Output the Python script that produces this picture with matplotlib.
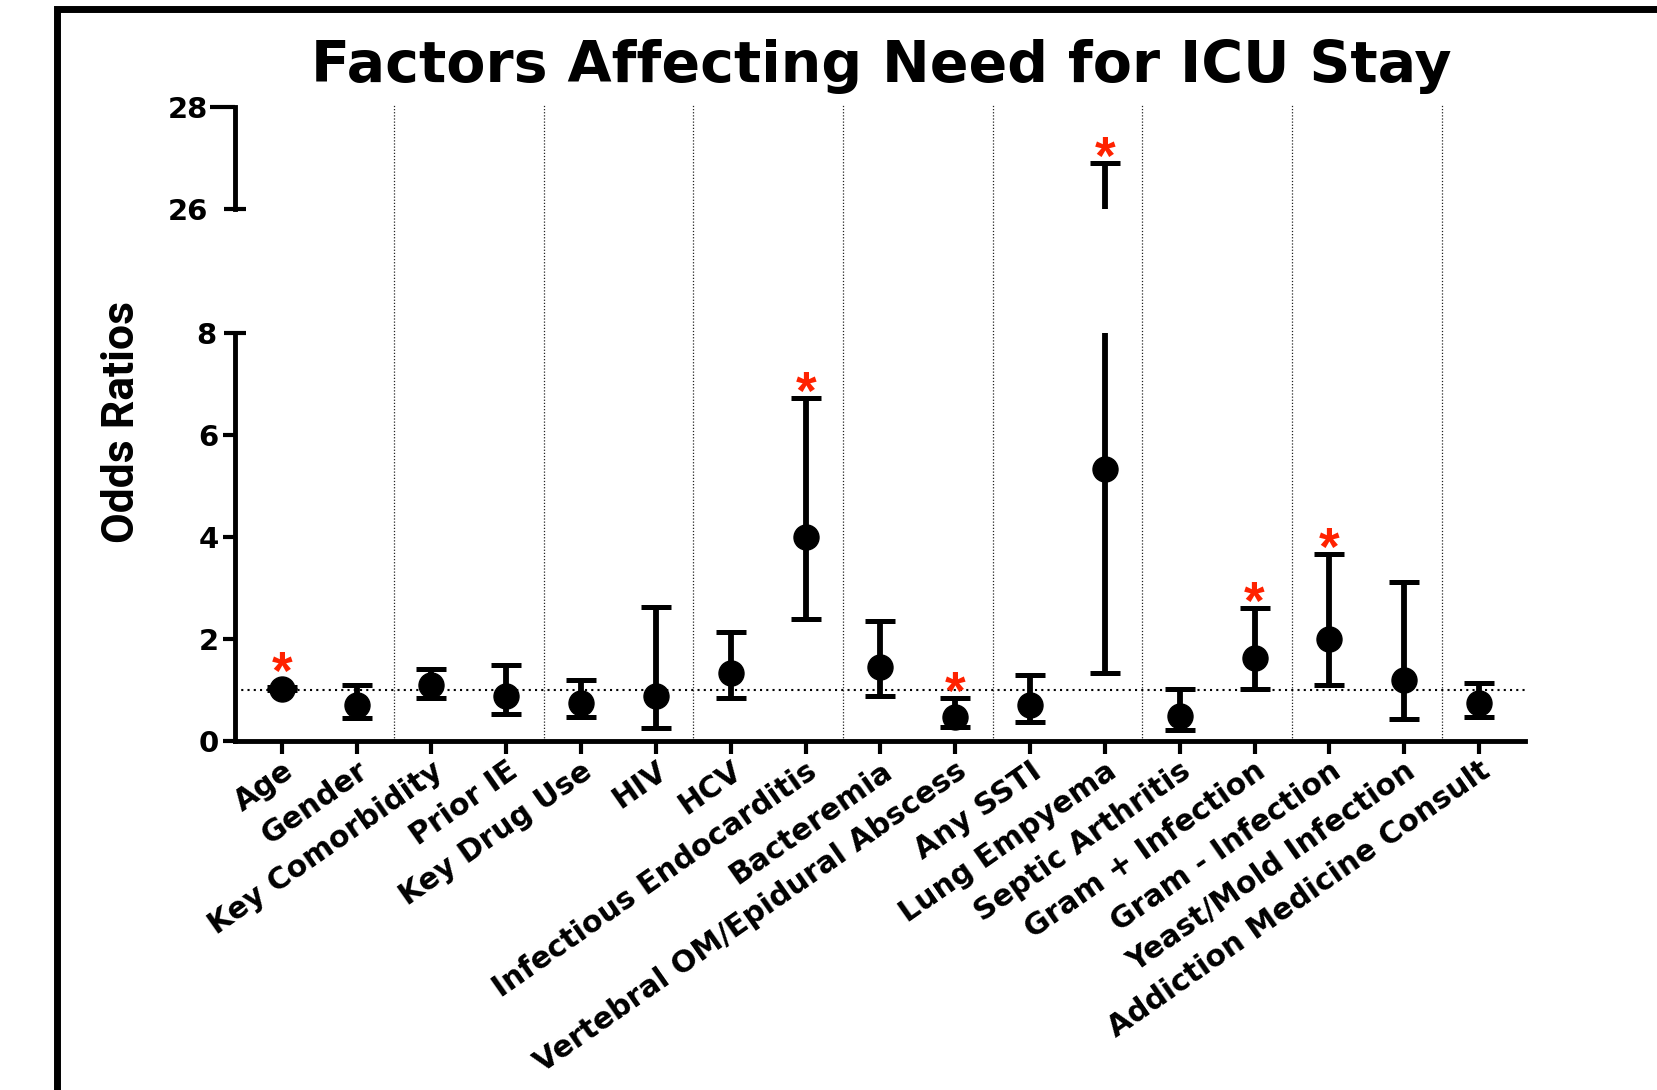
import numpy as np
import matplotlib.pyplot as plt
from matplotlib.patches import Rectangle

factors = ["Age", "Gender", "Key Comorbidity", "Prior IE", "Key Drug Use", "HIV", "HCV",
           "Infectious Endocarditis", "Bacteremia", "Vertebral OM/Epidural Abscess",
           "Any SSTI", "Lung Empyema", "Septic Arthritis", "Gram + Infection",
           "Gram - Infection", "Yeast/Mold Infection", "Addiction Medicine Consult"]
odds_ratio = [1.02, 0.71, 1.09, 0.88, 0.74, 0.88, 1.34, 3.99, 1.45, 0.47, 0.70, 5.33, 0.49, 1.62, 2.00, 1.19, 0.74]
ci_low = [1.00, 0.46, 0.84, 0.53, 0.47, 0.25, 0.85, 2.39, 0.89, 0.27, 0.37, 1.34, 0.22, 1.01, 1.09, 0.44, 0.47]
ci_high = [1.05, 1.10, 1.42, 1.49, 1.19, 2.62, 2.14, 6.73, 2.36, 0.84, 1.30, 26.9, 1.01, 2.61, 3.66, 3.12, 1.13]
significant = [1, 0, 0, 0, 0, 0, 0, 1, 0, 1, 0, 1, 0, 1, 1, 0, 0]

plt.rcParams['font.family'] = 'DejaVu Sans'
plt.rcParams['font.weight'] = 'bold'

x = np.arange(len(factors))
orr = np.array(odds_ratio)
err = [orr - np.array(ci_low), np.array(ci_high) - orr]

fig = plt.figure(figsize=(16.57, 10.9), dpi=100)

left, width = 0.1421, 0.7785
xlim = (-0.62, 16.62)

# background axes only for the dotted group separators (runs through the axis break)
ax_bg = fig.add_axes([left, 0.3202, width, 0.905 - 0.3202])
ax_bg.set_xlim(xlim)
ax_bg.set_ylim(0, 1)
ax_bg.axis('off')
ax_bg.vlines(np.arange(1.5, 16, 2), 0, 1, color='#222222', lw=0.9, ls=(0, (1, 1.5)))

ax_top = fig.add_axes([left, 0.8083, width, 0.0936])
ax = fig.add_axes([left, 0.3202, width, 0.3743])

for a, lims in ((ax, (0, 8)), (ax_top, (26, 28))):
    a.patch.set_visible(False)
    a.set_xlim(xlim)
    a.set_ylim(lims)
    a.errorbar(x, orr, yerr=err, fmt='o', color='black', ms=18, elinewidth=4.2,
               capsize=11, capthick=3.6, zorder=3)
    a.spines['top'].set_visible(False)
    a.spines['right'].set_visible(False)
    a.spines['left'].set_linewidth(3.5)
    a.spines['bottom'].set_linewidth(3.5)

ax.axhline(1, color='black', lw=1.5, ls=(0, (1, 2)), zorder=1)

# lower axis ticks
ax.set_yticks([0, 2, 4, 6])
ax.set_yticks([8], minor=True)
ax.set_yticklabels(['8'], minor=True)
ax.tick_params(axis='y', which='major', direction='out', length=9, width=3, labelsize=21, pad=3)
ax.tick_params(axis='y', which='minor', direction='inout', length=16, width=3, labelsize=21, pad=6)
ax.set_xticks(x)
ax.set_xticklabels(factors, rotation=35, ha='right', rotation_mode='anchor', fontsize=21.5)
ax.tick_params(axis='x', direction='out', length=9, width=3, pad=2)

# upper axis ticks
ax_top.spines['bottom'].set_visible(False)
ax_top.set_xticks([])
ax_top.set_yticks([28])
ax_top.set_yticks([26], minor=True)
ax_top.set_yticklabels(['26'], minor=True)
ax_top.tick_params(axis='y', which='major', direction='out', length=18, width=3, labelsize=21, pad=2)
ax_top.tick_params(axis='y', which='minor', direction='inout', length=16, width=3, labelsize=21, pad=12)

# significance stars sit above the upper cap, or above the dot when the interval is tiny
for i in x[np.array(significant) == 1]:
    target = ax_top if ci_high[i] > 8 else ax
    y_star = max(ci_high[i], odds_ratio[i] + 0.22)
    target.annotate('*', xy=(i, y_star), xytext=(0, -8), textcoords='offset points',
                    ha='center', va='baseline', color='#ff2200', fontsize=38,
                    fontweight='bold', family='Liberation Sans')

fig.text(0.5317, 0.925, 'Factors Affecting Need for ICU Stay', ha='center', va='baseline',
         fontsize=41, fontweight='bold')
fig.text(0.0736, 0.613, 'Odds Ratios', rotation=90, ha='center', va='center',
         fontsize=32, fontweight='bold', family=['Roboto', 'DejaVu Sans'])

frame = Rectangle((57 / 1657, -0.0016), 1.1, 0.9933, transform=fig.transFigure,
                  fill=False, lw=5, edgecolor='black', clip_on=False)
fig.patches.append(frame)

fig.savefig('out.png', dpi=100)
